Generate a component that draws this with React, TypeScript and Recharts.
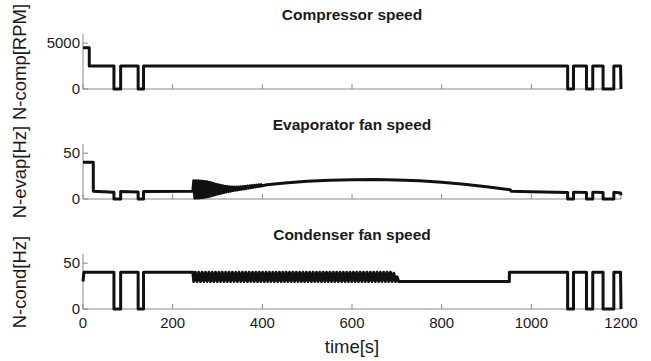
import { LineChart, Line, XAxis, YAxis } from "recharts";

type Pt = [number, number];

const timeTicks = [0, 200, 400, 600, 800, 1000, 1200];
const rpmTicks = [0, 5000];
const hzTicks = [0, 50];

// compressor speed, [time s, RPM]
const compressorSpeed: Pt[] = [
  [0, 4500], [14, 4500], [14, 2500], [69, 2500], [69, 0], [84, 0], [84, 2500],
  [123, 2500], [123, 0], [135, 0], [135, 2500], [1081, 2500], [1081, 0], [1094, 0],
  [1094, 2500], [1123, 2500], [1123, 0], [1137, 0], [1137, 2500], [1160, 2500],
  [1160, 0], [1184, 0], [1184, 2500], [1199, 2500], [1200, 0],
];

// evaporator fan, [time s, Hz]
const evapStart: Pt[] = [
  [0, 40], [23, 40], [23, 8.5], [69, 7.3], [69, 0], [84, 0], [84, 8.3], [123, 7.6],
  [123, 0], [135, 0], [135, 8.3], [245, 8.4],
];
const evapRipple: Pt[] = [
  [247, 20.0], [249.5, 0.8], [252, 20.0], [254.5, 1.0], [257, 19.8], [259.5, 1.2],
  [262, 19.6], [264.5, 1.4], [267, 19.4], [269.5, 1.7], [272, 19.1], [274.5, 2.1],
  [277, 18.7], [279.5, 2.6], [282, 18.2], [284.5, 3.2], [287, 17.6], [289.5, 3.9],
  [292, 16.9], [294.5, 4.6], [297, 16.2], [299.5, 5.3], [302, 15.6], [304.5, 6.0],
  [307, 15.0], [309.5, 6.6], [312, 14.5], [314.5, 7.2], [317, 14.0], [319.5, 7.7],
  [322, 13.6], [324.5, 8.2], [327, 13.3], [329.5, 8.6], [332, 13.1], [334.5, 9.1],
  [337, 13.0], [339.5, 9.5], [342, 13.0], [344.5, 9.9], [347, 13.1], [349.5, 10.3],
  [352, 13.3], [354.5, 10.7], [357, 13.5], [359.5, 11.1], [362, 13.8], [364.5, 11.5],
  [367, 14.0], [369.5, 11.9], [372, 14.3], [374.5, 12.3], [377, 14.6], [379.5, 12.7],
  [382, 14.9], [384.5, 13.1], [387, 15.1], [389.5, 13.5], [392, 15.4], [394.5, 13.9],
  [397, 15.6], [399.5, 14.3],
];
const evapTail: Pt[] = [
  [410, 15.6], [450, 17.5], [500, 19.3], [550, 20.4], [600, 21.0], [650, 21.2],
  [700, 20.8], [750, 19.8], [800, 18.2], [850, 16.0], [900, 13.3], [953, 10.0],
  [955, 8.5], [1000, 8.0], [1081, 7.0], [1081, 0], [1094, 0], [1094, 7.5], [1123, 7.0],
  [1123, 0], [1137, 0], [1137, 7.5], [1160, 7.0], [1160, 0], [1184, 0], [1184, 7.5],
  [1199, 6.5], [1200, 4.0],
];

// condenser fan, [time s, Hz]
const condStart: Pt[] = [
  [0, 30], [2, 40], [69, 40], [69, 0], [84, 0], [84, 40], [123, 40], [123, 0],
  [135, 0], [135, 40], [245, 40],
];
const condRipple: Pt[] = [
  [247, 30], [250.75, 40], [254.5, 30], [258.25, 40], [262, 30], [265.75, 40],
  [269.5, 30], [273.25, 40], [277, 30], [280.75, 40], [284.5, 30], [288.25, 40],
  [292, 30], [295.75, 40], [299.5, 30], [303.25, 40], [307, 30], [310.75, 40],
  [314.5, 30], [318.25, 40], [322, 30], [325.75, 40], [329.5, 30], [333.25, 40],
  [337, 30], [340.75, 40], [344.5, 30], [348.25, 40], [352, 30], [355.75, 40],
  [359.5, 30], [363.25, 40], [367, 30], [370.75, 40], [374.5, 30], [378.25, 40],
  [382, 30], [385.75, 40], [389.5, 30], [393.25, 40], [397, 30], [400.75, 40],
  [404.5, 30], [408.25, 40], [412, 30], [415.75, 40], [419.5, 30], [423.25, 40],
  [427, 30], [430.75, 40], [434.5, 30], [438.25, 40], [442, 30], [445.75, 40],
  [449.5, 30], [453.25, 40], [457, 30], [460.75, 40], [464.5, 30], [468.25, 40],
  [472, 30], [475.75, 40], [479.5, 30], [483.25, 40], [487, 30], [490.75, 40],
  [494.5, 30], [498.25, 40], [502, 30], [505.75, 40], [509.5, 30], [513.25, 40],
  [517, 30], [520.75, 40], [524.5, 30], [528.25, 40], [532, 30], [535.75, 40],
  [539.5, 30], [543.25, 40], [547, 30], [550.75, 40], [554.5, 30], [558.25, 40],
  [562, 30], [565.75, 40], [569.5, 30], [573.25, 40], [577, 30], [580.75, 40],
  [584.5, 30], [588.25, 40], [592, 30], [595.75, 40], [599.5, 30], [603.25, 40],
  [607, 30], [610.75, 40], [614.5, 30], [618.25, 40], [622, 30], [625.75, 40],
  [629.5, 30], [633.25, 40], [637, 30], [640.75, 40], [644.5, 30], [648.25, 40],
  [652, 30], [655.75, 40], [659.5, 30], [663.25, 40], [667, 30], [670.75, 40],
  [674.5, 30], [678.25, 40], [682, 30], [685.75, 40], [689.5, 30], [693.25, 39],
  [697, 30], [700.75, 35], [704, 30],
];
const condTail: Pt[] = [
  [951, 30], [951, 40], [1081, 40], [1081, 0], [1094, 0], [1094, 40], [1123, 40],
  [1123, 0], [1137, 0], [1137, 40], [1160, 40], [1160, 0], [1184, 0], [1184, 40],
  [1199, 40], [1200, 0],
];

const rows = (...parts: Pt[][]) => parts.flat().map(([t, v]) => ({ t, v }));

const FONT = '"Liberation Sans", Arial, Helvetica, sans-serif';
const INK = "#1a1a1a";
const AXIS = "#8a8a8a";

type PanelProps = {
  top: number;
  height: number;
  title: string;
  label: string;
  data: { t: number; v: number }[];
  yMax: number;
  yTicks: number[];
  xLabels?: boolean;
};

function Panel({ top, height, title, label, data, yMax, yTicks, xLabels }: PanelProps) {
  return (
    <div style={{ position: "absolute", left: 0, top, width: 651, height }}>
      <LineChart width={651} height={height} data={data} margin={{ top: 34, right: 30, bottom: 0, left: 43 }}>
        <XAxis
          dataKey="t"
          type="number"
          domain={[0, 1200]}
          ticks={timeTicks}
          height={xLabels ? 52 : 31}
          stroke={AXIS}
          tickSize={-5}
          tickMargin={13}
          tick={{ fill: INK, fontSize: 15, fontFamily: FONT }}
          tickFormatter={(v) => (xLabels ? String(v) : "")}
        />
        <YAxis
          type="number"
          domain={[0, yMax]}
          ticks={yTicks}
          width={40}
          stroke={AXIS}
          tickSize={-5}
          tickMargin={8}
          tick={{ fill: INK, fontSize: 15, fontFamily: FONT }}
        />
        {/* drawn above the axis lines so the zero-speed stretches stay black */}
        <Line
          type="linear"
          dataKey="v"
          stroke="#111"
          strokeWidth={3}
          strokeLinejoin="round"
          dot={false}
          activeDot={false}
          isAnimationActive={false}
          zIndex={600}
        />
      </LineChart>
      <div
        style={{
          position: "absolute", left: 152, top: 6, width: 400, textAlign: "center",
          fontFamily: FONT, fontWeight: "bold", fontSize: 15.5, lineHeight: "18px", color: INK,
        }}
      >
        {title}
      </div>
      <div
        style={{
          position: "absolute", left: 20 - 100, top: 61.5 - 11, width: 200, height: 22,
          lineHeight: "22px", textAlign: "center", transform: "rotate(-90deg)",
          fontFamily: FONT, fontSize: 18.5, color: INK, whiteSpace: "nowrap",
        }}
      >
        {label}
      </div>
    </div>
  );
}

export default function App() {
  return (
    <div style={{ position: "fixed", left: 0, top: 0, width: 651, height: 361, background: "#fff", overflow: "hidden" }}>
      <Panel top={0} height={120} title="Compressor speed" label="N-comp[RPM]"
        data={rows(compressorSpeed)} yMax={6000} yTicks={rpmTicks} />
      <Panel top={110} height={120} title="Evaporator fan speed" label="N-evap[Hz]"
        data={rows(evapStart, evapRipple, evapTail)} yMax={60} yTicks={hzTicks} />
      <Panel top={220} height={141} title="Condenser fan speed" label="N-cond[Hz]"
        data={rows(condStart, condRipple, condTail)} yMax={60} yTicks={hzTicks} xLabels />
      <div
        style={{
          position: "absolute", left: 252, top: 336, width: 200, textAlign: "center",
          fontFamily: FONT, fontSize: 18.5, lineHeight: "22px", color: INK,
        }}
      >
        time[s]
      </div>
    </div>
  );
}
